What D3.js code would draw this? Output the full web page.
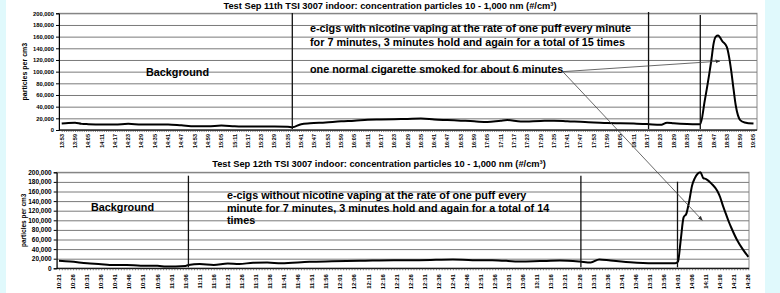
<!DOCTYPE html>
<html>
<head>
<meta charset="utf-8">
<script src="https://cdn.jsdelivr.net/npm/d3@7"></script>
<style>
  body { margin: 0; background: #fff; }
  svg { display: block; font-family: "Liberation Sans", Arial, sans-serif; }
</style>
</head>
<body>
<svg id="chart" width="780" height="293"></svg>
<script>
// Sep 11th test - e-cigs with nicotine + one cigarette
const sep11Times = ["13:53","13:56","13:59","14:02","14:05","14:11","14:17","14:23","14:29","14:35","14:41","14:47","14:53","14:59","15:05","15:11","15:17","15:23","15:29","15:35","15:37",
  "15:41","15:45","15:52","15:59","16:05","16:11","16:17","16:23","16:29","16:35","16:41","16:47","16:53","16:59","17:05","17:11","17:14","17:20","17:29","17:35","17:41","17:49","17:53","17:59","18:05","18:11","18:17","18:23","18:26","18:29","18:35","18:40",
  "18:41","18:43","18:45","18:46","18:47","18:48","18:49","18:51","18:53","18:54","18:55","18:56","18:57","18:58","18:59","19:01","19:05"];
const sep11Values = [11000,12000,12500,10500,10000,9500,9500,10500,9500,9500,9500,8000,6500,6500,7500,6500,6000,6000,6000,5500,4500,
  10000,11500,13000,15000,16000,17500,18000,18500,19000,19500,18000,17000,16000,15000,13500,16000,17000,14500,15500,16000,15000,13500,13000,12000,11500,11000,10300,8800,12500,11500,10300,10000,
  10000,50000,95000,120000,148000,160000,162000,152000,142000,125000,100000,70000,42000,25000,17000,13000,11000];
const sep11Ticks = ["13:53","13:59","14:05","14:11","14:17","14:23","14:29","14:35","14:41","14:47","14:53","14:59","15:05","15:11","15:17","15:23","15:29","15:35","15:41","15:47","15:53","15:59",
  "16:05","16:11","16:17","16:23","16:29","16:35","16:41","16:47","16:53","16:59","17:05","17:11","17:17","17:23","17:29","17:35","17:41","17:47","17:53","17:59","18:05","18:11","18:17","18:23","18:29","18:35","18:41","18:47","18:53","18:59","19:05"];
const sep11Markers = ["15:37","18:17:40","18:41"];

// Sep 12th test - e-cigs without nicotine
const sep12Times = ["10:21","10:25","10:31","10:36","10:39","10:45","10:50","10:56","10:59","11:06","11:07","11:11","11:16","11:21","11:25","11:30","11:35","11:40","11:50","11:58","12:08","12:20","12:29","12:41","12:48","12:55",
  "13:05","13:12","13:19","13:26","13:30","13:33","13:37","13:44","13:52","14:00","14:01","14:02","14:03","14:04","14:05","14:06","14:07","14:08","14:09","14:10","14:11","14:13","14:15","14:16","14:17","14:18","14:19","14:20","14:22","14:24","14:26"];
const sep12Values = [15500,14000,10500,8500,7000,7000,5500,5500,3500,4800,7000,9000,7000,10000,9000,11500,12000,10500,13500,14500,15500,17000,17000,18500,17000,17000,
  14000,15000,16000,14000,12000,18500,16000,12500,10500,10500,14000,60000,106000,114000,140000,172000,188000,197000,200000,188000,186000,176000,161000,148000,130000,114000,98000,84000,59000,40000,24000];
const sep12Ticks = ["10:21","10:26","10:31","10:36","10:41","10:46","10:51","10:56","11:01","11:06","11:11","11:16","11:21","11:26","11:31","11:36","11:41","11:46","11:51","11:56",
  "12:01","12:06","12:11","12:16","12:21","12:26","12:31","12:36","12:41","12:46","12:51","12:56","13:01","13:06","13:11","13:16","13:21","13:26","13:31","13:36","13:41","13:46","13:51","13:56","14:01","14:06","14:11","14:16","14:21","14:26"];
const sep12Markers = ["11:07","13:26:30","14:00:50"];

const yTicks = d3.range(0, 200001, 20000);

const parse = (s) => d3.timeParse("%H:%M:%S")(s.length === 5 ? s + ":00" : s);

const svg = d3.select("#chart");
svg.append("rect").attr("width", 780).attr("height", 293).attr("fill", "#fff");
svg.append("rect").attr("x", 0).attr("width", 6).attr("height", 293).attr("fill", "#e0f9fc");
svg.append("rect").attr("x", 765).attr("width", 15).attr("height", 293).attr("fill", "#e0f9fc");

svg.append("defs").append("marker")
  .attr("id", "arrow")
  .attr("viewBox", "0 0 10 10")
  .attr("refX", 9).attr("refY", 5)
  .attr("markerWidth", 6).attr("markerHeight", 6)
  .attr("orient", "auto")
  .append("path").attr("d", "M0,1 L10,5 L0,9 Z").attr("fill", "#333");

function drawPanel(cfg) {
  const g = svg.append("g");
  const x = d3.scaleTime()
    .domain([parse(cfg.ticks[0]), parse(cfg.ticks[cfg.ticks.length - 1])])
    .range([cfg.x0, cfg.x1]);
  const y = d3.scaleLinear().domain([0, 200000]).range([cfg.bottom, cfg.top]);

  // plot area
  g.append("rect")
    .attr("x", cfg.left).attr("y", cfg.top)
    .attr("width", cfg.right - cfg.left).attr("height", cfg.bottom - cfg.top)
    .attr("fill", "#fff").attr("stroke", "#8a8a8a").attr("stroke-width", 1);

  // gridlines
  g.append("g")
    .attr("transform", `translate(${cfg.left},0)`)
    .call(d3.axisLeft(y).tickValues(yTicks).tickFormat("").tickSize(-(cfg.right - cfg.left)))
    .call(a => a.select(".domain").remove())
    .call(a => a.selectAll("line").attr("stroke", "#7a7a7a"));

  // y axis
  g.append("g")
    .attr("transform", `translate(${cfg.left},0)`)
    .call(d3.axisLeft(y).tickValues(yTicks).tickSize(3).tickPadding(2).tickFormat(d3.format(",")))
    .call(a => a.select(".domain").attr("stroke", "#000"))
    .call(a => a.selectAll("text").attr("font-size", cfg.yFont).attr("font-weight", "bold")
      .attr("font-family", "Liberation Sans, Arial, sans-serif").attr("fill", "#000"));

  // x axis minute ticks
  const minutes = d3.timeMinute.range(x.domain()[0], d3.timeMinute.offset(x.domain()[1], 1));
  g.append("g")
    .attr("transform", `translate(0,${cfg.bottom})`)
    .call(d3.axisBottom(x).tickValues(minutes).tickSize(2).tickFormat(""))
    .call(a => a.select(".domain").attr("d", `M${cfg.left},0H${cfg.right}`).attr("stroke", "#000"))
    .call(a => a.selectAll("line").attr("stroke", "#333").attr("stroke-width", 0.6));

  // x tick labels (rotated)
  g.append("g").selectAll("text")
    .data(cfg.ticks)
    .join("text")
    .attr("transform", d => `translate(${x(parse(d))},${cfg.bottom + cfg.labelGap}) rotate(-90)`)
    .attr("text-anchor", "end")
    .attr("dy", "0.35em")
    .attr("font-size", cfg.xFont)
    .attr("font-weight", "bold")
    .text(d => d);

  // y axis title
  g.append("text")
    .attr("transform", `translate(${cfg.titleX},${(cfg.top + cfg.bottom) / 2}) rotate(-90)`)
    .attr("text-anchor", "middle")
    .attr("font-size", cfg.yTitleFont)
    .attr("font-weight", "bold")
    .text("particles per cm3");

  // chart title
  g.append("text")
    .attr("x", cfg.headX).attr("y", cfg.headY)
    .attr("text-anchor", "middle")
    .attr("font-size", 9.3).attr("font-weight", "bold")
    .text(cfg.title);

  // series line
  const pts = cfg.times.map((t, i) => ({ t: parse(t), v: cfg.values[i] }));
  g.append("path")
    .datum(pts)
    .attr("fill", "none")
    .attr("stroke", "#000")
    .attr("stroke-width", 2)
    .attr("stroke-linejoin", "round")
    .attr("d", d3.line().x(d => x(d.t)).y(d => y(d.v)).curve(d3.curveMonotoneX));

  // phase markers
  g.selectAll(".marker")
    .data(cfg.markers)
    .join("line")
    .attr("x1", d => x(parse(d))).attr("x2", d => x(parse(d)))
    .attr("y1", (d, i) => cfg.markerTop[i]).attr("y2", cfg.bottom - 1)
    .attr("stroke", "#111").attr("stroke-width", 1.3);

  return { x, y };
}

const topPanel = drawPanel({
  times: sep11Times, values: sep11Values, ticks: sep11Ticks, markers: sep11Markers,
  left: 59, right: 757, top: 13.3, bottom: 130, x0: 61.7, x1: 753.5,
  markerTop: [13, 12, 15], labelGap: 4, xFont: 5.5, yFont: 5.8, yTitleFont: 7, titleX: 27,
  headX: 390, headY: 9,
  title: "Test Sep 11th TSI 3007 indoor: concentration particles 10 - 1,000 nm (#/cm³)"
});

const bottomPanel = drawPanel({
  times: sep12Times, values: sep12Values, ticks: sep12Ticks, markers: sep12Markers,
  left: 56.7, right: 749, top: 172.3, bottom: 268.3, x0: 59, x1: 748.3,
  markerTop: [175.7, 175.7, 181.7], labelGap: 6, xFont: 5.8, yFont: 6.5, yTitleFont: 6.5, titleX: 26,
  headX: 379, headY: 167,
  title: "Test Sep 12th TSI 3007 indoor: concentration particles 10 - 1,000 nm (#/cm³)"
});

// annotations
function label(lines, x0, y0, lh = 0) {
  const t = svg.append("text").attr("font-size", 10.8).attr("font-weight", "bold");
  lines.forEach((s, i) => t.append("tspan").attr("x", x0).attr("y", y0 + i * lh).text(s));
}
label(["e-cigs with nicotine vaping at the rate of one puff every minute",
       "for 7 minutes, 3 minutes hold and again for a total of 15 times"], 310, 31.5, 14);
label(["one normal cigarette smoked for about 6 minutes"], 310, 73);
label(["Background"], 146, 75.5);
label(["e-cigs without nicotine vaping at the rate of one puff every",
       "minute for 7 minutes, 3 minutes hold and again for a total of 14",
       "times"], 227, 199, 12.5);
label(["Background"], 91, 211);

// arrows from the cigarette note to the two peaks
const arrowStart = [topPanel.x(parse("17:39")), topPanel.y(100000)];
const arrowEnds = [
  [topPanel.x(parse("18:49:50")), topPanel.y(118000)],
  [bottomPanel.x(parse("14:09:40")), bottomPanel.y(100000)]
];
svg.selectAll(".arrow")
  .data(arrowEnds)
  .join("line")
  .attr("x1", arrowStart[0]).attr("y1", arrowStart[1])
  .attr("x2", d => d[0]).attr("y2", d => d[1])
  .attr("stroke", "#444").attr("stroke-width", 0.8)
  .attr("marker-end", "url(#arrow)");
</script>
</body>
</html>
